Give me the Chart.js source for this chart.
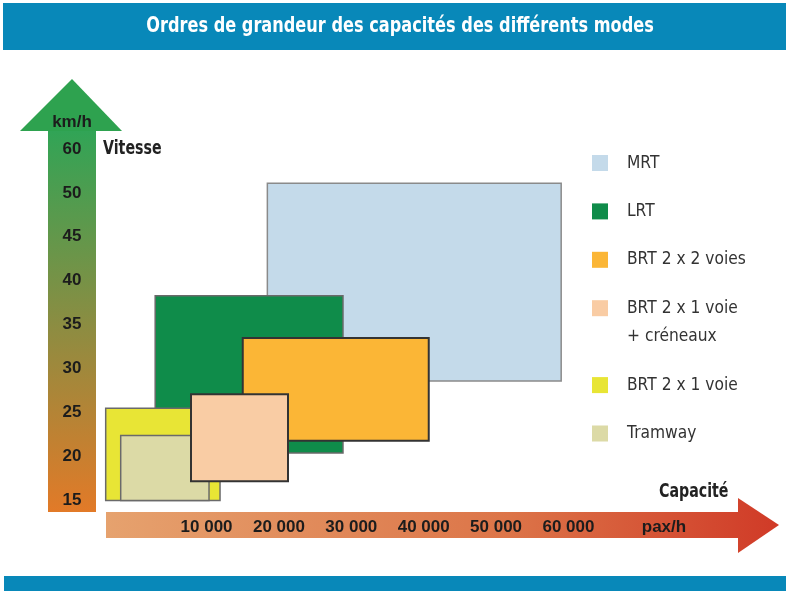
<!DOCTYPE html>
<html><head><meta charset="utf-8">
<script src="https://cdn.jsdelivr.net/npm/chart.js@4.4.1/dist/chart.umd.min.js"></script>
<style>html,body{margin:0;padding:0;background:#fff;} #wrap{position:relative;width:786px;height:591px;}</style>
</head><body><div id="wrap"><canvas id="c" width="786" height="591"></canvas></div>
<script>
// ---- data ----
const chartTitle = 'Ordres de grandeur des capacités des différents modes';
const modes = ['MRT', 'LRT', 'BRT 2 x 2 voies', 'BRT 2 x 1 voie + créneaux', 'BRT 2 x 1 voie', 'Tramway'];
const legendLines = [['MRT'], ['LRT'], ['BRT 2 x 2 voies'], ['BRT 2 x 1 voie', '+ créneaux'], ['BRT 2 x 1 voie'], ['Tramway']];
const capMin = [18400, 2900, 15000, 7850, -3940, -1865];   // pax/h
const capMax = [59000, 28850, 40700, 21250, 11860, 10340];
const speedMin = [28.6, 20.4, 21.8, 17.2, 15, 15];          // km/h (axis position)
const speedMax = [51.1, 38.3, 33.5, 27.1, 25.5, 22.4];
const layer = [5, 4, 3, 0, 2, 1];                            // 0 = on top
const fillColors = ['#c4daea', '#0f8c4a', '#fbb636', '#f9cca4', '#e8e535', '#dcdaa6'];
const edgeColors = ['#8a8a8a', '#6a6a6a', '#333333', '#333333', '#6a6a6a', '#6a6a6a'];
const xTickValues = [10000, 20000, 30000, 40000, 50000, 60000, 73200];
const xTickLabels = ['10 000', '20 000', '30 000', '40 000', '50 000', '60 000', 'pax/h'];
const yTickValues = [15, 20, 25, 30, 35, 40, 45, 50, 55];
const yTickLabels = ['15', '20', '25', '30', '35', '40', '45', '50', '60'];

const COND = "'DejaVu Sans', 'Noto Sans', sans-serif";
const ARIAL = "'Liberation Sans', Arial, sans-serif";

const datasets = modes.map((m, i) => ({
  label: m,
  data: [
    {x: capMin[i], y: speedMax[i]},
    {x: capMax[i], y: speedMax[i]},
    {x: capMax[i], y: speedMin[i]},
    {x: capMin[i], y: speedMin[i]},
    {x: capMin[i], y: speedMax[i]}
  ],
  showLine: true,
  fill: 'shape',
  backgroundColor: fillColors[i],
  borderColor: edgeColors[i],
  borderWidth: i === 2 || i === 3 ? 2 : 1.5,
  borderJoinStyle: 'miter',
  borderCapStyle: 'square',
  pointRadius: 0,
  tension: 0,
  order: layer[i]
}));

function condText(ctx, text, x, y, sx, align) {
  ctx.save();
  ctx.translate(x, y);
  ctx.scale(sx, 1);
  ctx.textAlign = align;
  ctx.fillText(text, 0, 0);
  ctx.restore();
}

const decor = {
  id: 'decor',
  beforeDraw(chart) {
    const ctx = chart.ctx;
    const W = chart.width;
    ctx.save();
    ctx.fillStyle = '#ffffff';
    ctx.fillRect(0, 0, W, chart.height);
    // bands
    ctx.fillStyle = '#0888b9';
    ctx.fillRect(3, 3, W - 3, 47);
    ctx.fillRect(4, 576, W - 4, 15);
    ctx.fillStyle = '#ffffff';
    ctx.font = "bold 21px " + COND;
    ctx.textBaseline = 'middle';
    condText(ctx, chartTitle, 400, 27, 0.77, 'center');

    // y arrow
    let g = ctx.createLinearGradient(0, 131, 0, 512);
    g.addColorStop(0, '#31a456');
    g.addColorStop(0.5, '#8a8d42');
    g.addColorStop(1, '#e27a28');
    ctx.fillStyle = g;
    ctx.fillRect(48, 131, 48, 381);
    ctx.fillStyle = '#2ea24f';
    ctx.beginPath();
    ctx.moveTo(72, 79); ctx.lineTo(122, 131); ctx.lineTo(20, 131); ctx.closePath();
    ctx.fill();

    // x arrow
    g = ctx.createLinearGradient(106, 0, 779, 0);
    g.addColorStop(0, '#e6a26e');
    g.addColorStop(0.6, '#dc7448');
    g.addColorStop(1, '#d03a27');
    ctx.fillStyle = g;
    ctx.fillRect(106, 512, 634, 26);
    ctx.beginPath();
    ctx.moveTo(738, 498); ctx.lineTo(779, 525); ctx.lineTo(738, 553); ctx.closePath();
    ctx.fill();

    // tick labels from scales
    const xs = chart.scales.x, ys = chart.scales.y;
    ctx.fillStyle = '#1c1c1c';
    ctx.font = "bold 17px " + ARIAL;
    ctx.textAlign = 'center';
    ctx.textBaseline = 'middle';
    xTickValues.forEach((v, i) => ctx.fillText(xTickLabels[i], xs.getPixelForValue(v), 527));
    yTickValues.forEach((v, i) => ctx.fillText(yTickLabels[i], 72, ys.getPixelForValue(v)));
    ctx.fillText('km/h', 72, 122);

    // axis titles
    ctx.font = "bold 20px " + COND;
    ctx.fillStyle = '#222';
    condText(ctx, 'Vitesse', 103, 149, 0.71, 'left');
    condText(ctx, 'Capacité', 659, 492, 0.71, 'left');

    // legend
    ctx.font = "18px " + COND;
    let y = 163;
    legendLines.forEach((lines, i) => {
      ctx.fillStyle = fillColors[i];
      ctx.fillRect(592, y - 8, 16, 16);
      ctx.fillStyle = '#333';
      lines.forEach((t, k) => condText(ctx, t, 627, y + k * 28.5, 0.86, 'left'));
      y += 48.4 + (lines.length - 1) * 28.5;
    });
    ctx.restore();
  }
};

new Chart(document.getElementById('c'), {
  type: 'scatter',
  data: {datasets},
  options: {
    responsive: false,
    animation: false,
    events: [],
    layout: {padding: {left: 61.83, right: 72.84, top: 104.95, bottom: 46.55}},
    plugins: {legend: {display: false}, tooltip: {enabled: false}, title: {display: false}},
    scales: {
      x: {type: 'linear', display: false, min: -10000, max: 80000},
      y: {type: 'linear', display: false, min: 10, max: 60}
    }
  },
  plugins: [decor]
});
</script>
</body></html>
